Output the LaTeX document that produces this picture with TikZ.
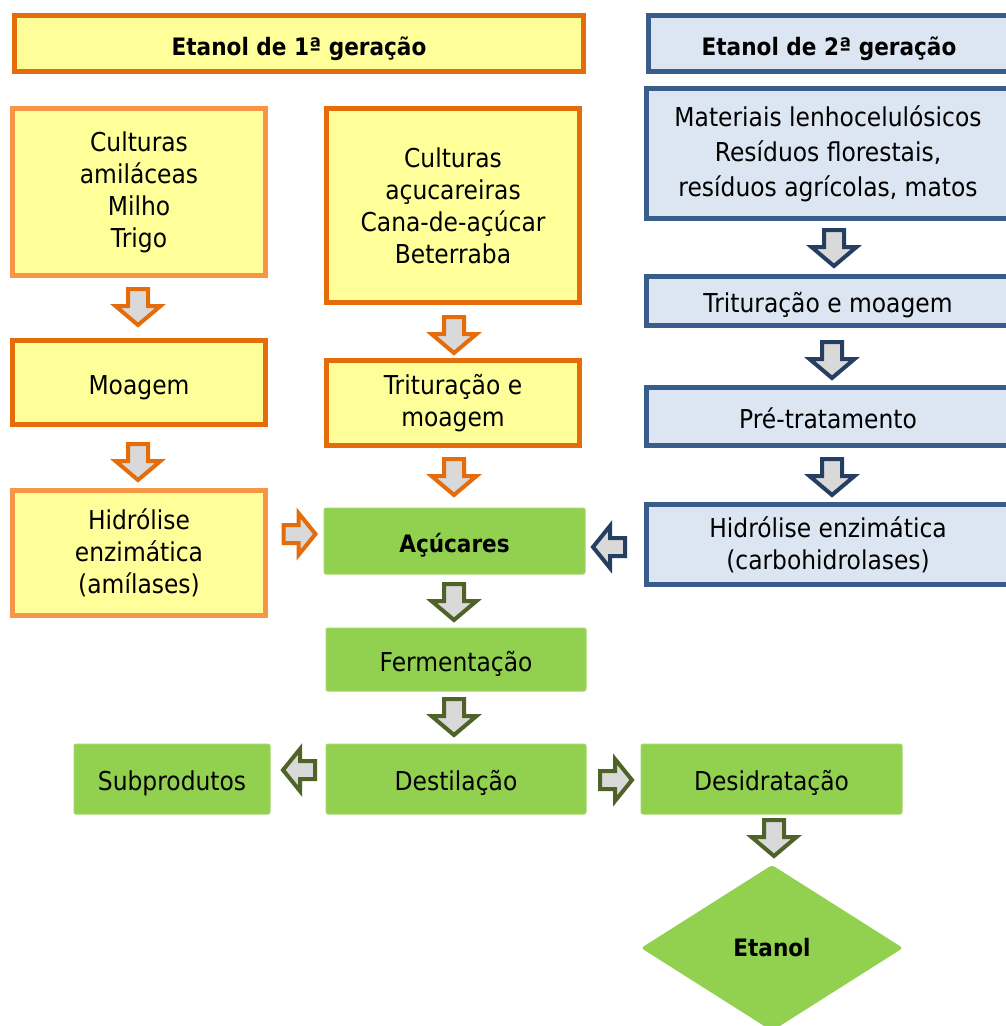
\documentclass[tikz,border=0pt]{standalone}
\usepackage{fontspec}
\setmainfont{DejaVu Sans}[FakeStretch=0.9]
\usetikzlibrary{shapes.geometric}
\definecolor{yel}{HTML}{FFFF99}
\definecolor{orD}{HTML}{E46C0A}
\definecolor{orL}{HTML}{F79646}
\definecolor{blF}{HTML}{DCE6F2}
\definecolor{blB}{HTML}{385D8A}
\definecolor{blA}{HTML}{243F60}
\definecolor{grF}{HTML}{92D050}
\definecolor{grA}{HTML}{4F6228}
\definecolor{arF}{HTML}{D9D9D9}
\tikzset{
  txt/.style={font=\fontsize{26}{32}\selectfont, align=center, inner sep=0pt},
  bold/.style={font=\fontsize{24}{32}\selectfont\bfseries},
  oneline/.style={text height=24pt, text depth=1pt},
  ybox/.style={txt, rectangle, draw=orD, fill=yel, line width=5pt},
  ylbox/.style={ybox, draw=orL},
  bbox/.style={txt, rectangle, draw=blB, fill=blF, line width=5pt},
  gbox/.style={txt, rectangle, fill=grF, draw=grF!85!white, line width=1pt, rounded corners=2pt},
  arrO/.style={draw=orD, fill=arF, line width=4pt, line join=miter},
  arrB/.style={draw=blA, fill=arF, line width=4pt, line join=miter},
  arrG/.style={draw=grA, fill=arF, line width=4pt, line join=miter},
  varrow/.pic={\path[pic actions] (-10,-18) -- (10,-18) -- (10,-1) -- (22.5,-1) -- (0,18) -- (-22.5,-1) -- (-10,-1) -- cycle;},
  harrow/.pic={\path[pic actions] (-9,-16) -- (9,-16) -- (9,-1) -- (21,-1) -- (0,16) -- (-21,-1) -- (-9,-1) -- cycle;}
}
\begin{document}
\begin{tikzpicture}[x=1pt,y=-1pt]
\useasboundingbox (0,0) rectangle (1005,1026);
\fill[white] (0,0) rectangle (1005,1026);
% headers
\node[ybox, bold, oneline, minimum width=569pt, minimum height=56pt] (h1) at (299,43.5) {Etanol de 1ª geração};
\node[bbox, bold, oneline, minimum width=361pt, minimum height=56pt] (h2) at (829,43.5) {Etanol de 2ª geração};
% first generation
\node[ylbox, minimum width=253pt, minimum height=167pt] (c1) at (139,192) {Culturas\\amiláceas\\Milho\\Trigo};
\node[ybox, oneline, minimum width=253pt, minimum height=84pt] (moag) at (139,382.5) {Moagem};
\node[ylbox, minimum width=253pt, minimum height=125pt] (hid1) at (139,553) {Hidrólise\\enzimática\\(amílases)};
\node[ybox, minimum width=253pt, minimum height=194pt] (c2) at (453,205.5) {Culturas\\açucareiras\\Cana-de-açúcar\\Beterraba};
\node[ybox, minimum width=253pt, minimum height=85pt] (trit1) at (453,403) {Trituração e\\moagem};
% second generation
\node[bbox, font=\fontsize{26}{35}\selectfont, minimum width=363pt, minimum height=130pt] (mat) at (828,153.5) {Materiais lenhocelulósicos\\Resíduos florestais,\\resíduos agrícolas, matos};
\node[bbox, oneline, minimum width=363pt, minimum height=49pt] (trit2) at (828,301) {Trituração e moagem};
\node[bbox, oneline, minimum width=363pt, minimum height=58pt] (pre) at (828,416.5) {Pré-tratamento};
\node[bbox, minimum width=363pt, minimum height=80pt] (hid2) at (828,544.5) {Hidrólise enzimática\\(carbohidrolases)};
% common
\node[gbox, bold, oneline, minimum width=261pt, minimum height=66pt] (acu) at (454.5,541) {Açúcares};
\node[gbox, oneline, minimum width=260pt, minimum height=63pt] (ferm) at (456,659.5) {Fermentação};
\node[gbox, oneline, minimum width=260pt, minimum height=70pt] (dest) at (456,779) {Destilação};
\node[gbox, oneline, minimum width=196pt, minimum height=70pt] (sub) at (172,779) {Subprodutos};
\node[gbox, oneline, minimum width=261pt, minimum height=70pt] (desid) at (771.5,779) {Desidratação};
\node[txt, bold, diamond, fill=grF, minimum width=262pt, minimum height=166pt, rounded corners=3pt] (eta) at (772,948) {Etanol};
% arrows
\pic[arrO] at (138,307) {varrow};
\pic[arrO] at (138,462) {varrow};
\pic[arrO] at (454,335) {varrow};
\pic[arrO] at (454,477) {varrow};
\pic[arrO, rotate=90] at (299.5,534) {harrow};
\pic[arrB] at (834,248) {varrow};
\pic[arrB] at (832,360) {varrow};
\pic[arrB] at (832,477) {varrow};
\pic[arrB, rotate=-90] at (609,547) {harrow};
\pic[arrG] at (454,602) {varrow};
\pic[arrG] at (454,717) {varrow};
\pic[arrG] at (774,838) {varrow};
\pic[arrG, rotate=-90] at (299,770) {harrow};
\pic[arrG, rotate=90] at (616,780) {harrow};
\end{tikzpicture}
\end{document}
